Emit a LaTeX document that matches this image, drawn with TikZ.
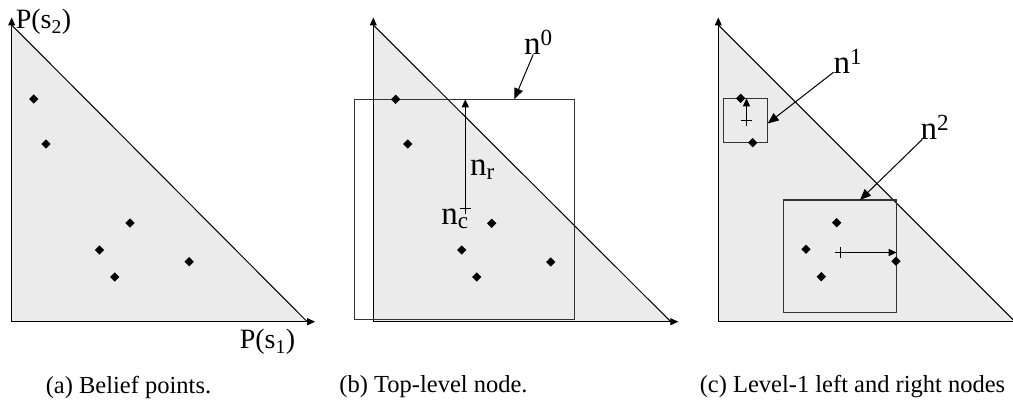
\documentclass[tikz,border=0pt]{standalone}
\usepackage{fontspec}
\setmainfont{Liberation Serif}
\usetikzlibrary{arrows.meta,shapes.geometric}
\tikzset{
  trifill/.style={fill=gray!16, draw=none},
  hyp/.style={draw=black, line width=1pt},
  axisline/.style={draw=black, line width=1pt, -{Triangle[length=8pt,width=7pt]}},
  beliefpt/.style={diamond, fill=black, draw=none, inner sep=0pt, minimum width=9.5pt, minimum height=9.5pt},
  nbox/.style={draw=black!80, line width=1.1pt},
  ptr/.style={draw=black, line width=1pt, -{Triangle[length=11pt,width=9pt]}},
  radarrow/.style={draw=black, line width=1pt, -{Triangle[length=8pt,width=7pt]}},
  biglab/.style={font=\fontsize{33}{37}\selectfont, inner sep=1pt},
  axlab/.style={font=\fontsize{28}{32}\selectfont, inner sep=1pt},
  captext/.style={font=\fontsize{24.5}{28}\selectfont, inner sep=0pt},
}
\newcommand{\plusmark}[1]{\draw[line width=1pt] ([xshift=-5.5pt]#1) -- ([xshift=5.5pt]#1) ([yshift=-5.5pt]#1) -- ([yshift=5.5pt]#1);}
\begin{document}
\begin{tikzpicture}[x=1pt,y=-1pt]
\useasboundingbox (0,0) rectangle (1013,409);
% ---------- panel (a)
\begin{scope}[shift={(11.7,0)}]
  \coordinate (aO) at (0,321.7);
  \coordinate (aT) at (0,25);
  \coordinate (aR) at (295.5,321.7);
  \fill[trifill] (aO) -- (aT) -- (aR) -- cycle;
  \draw[hyp] (aT) -- (aR);
  \coordinate (aTy) at (0,17.5);
  \coordinate (aTx) at (303.5,321.7);
  \draw[axisline] (aO) -- (aTy);
  \draw[axisline] (aO) -- (aTx);
  \foreach \i/\x/\y in {1/22/99,2/34.3/144,3/118.3/223,4/87.8/250,5/103/277,6/177.5/261.7}
    \node[beliefpt] (a\i) at (\x,\y) {};
\end{scope}
\node[axlab] (ps2) at (43.5,22) {P(s\textsubscript{2})};
\node[axlab] (ps1) at (267.5,342) {P(s\textsubscript{1})};
\node[captext] (capa) at (128.5,387) {(a) Belief points.};
% ---------- panel (b)
\begin{scope}[shift={(373.3,0)}]
  \coordinate (bO) at (0,321.7);
  \coordinate (bT) at (0,25);
  \coordinate (bR) at (297.5,321.7);
  \fill[trifill] (bO) -- (bT) -- (bR) -- cycle;
  \draw[hyp] (bT) -- (bR);
  \coordinate (bTy) at (0,17.5);
  \coordinate (bTx) at (305,321.7);
  \draw[axisline] (bO) -- (bTy);
  \draw[axisline] (bO) -- (bTx);
  \draw[nbox] (-19,99.3) rectangle (201,319.3);
  \foreach \i/\x/\y in {1/22.4/99.3,2/34.4/144,3/118.4/223.3,4/88.4/250,5/103.4/277,6/177.4/262}
    \node[beliefpt] (b\i) at (\x,\y) {};
  \coordinate (bc) at (92,209);
  \coordinate (btop) at (92,99.3);
  \coordinate (bn0tip) at (141,99.3);
\end{scope}
\plusmark{bc}
\draw[radarrow] (bc) -- (btop);
\node[biglab] (nr) at (482.5,170) {n\textsubscript{r}};
\node[biglab] (nc) at (455,219) {n\textsubscript{c}};
\node[biglab, inner sep=0pt] (n0) at (538.5,42) {n\textsuperscript{0}};
\draw[ptr] (n0) -- (bn0tip);
\node[captext] (capb) at (433.5,387) {(b) Top-level node.};
% ---------- panel (c)
\begin{scope}[shift={(718.3,0)}]
  \coordinate (cO) at (0,321);
  \coordinate (cT) at (0,25);
  \coordinate (cR) at (296,321);
  \fill[trifill] (cO) -- (cT) -- (cR) -- cycle;
  \draw[hyp] (cT) -- (cR);
  \coordinate (cTy) at (0,17.5);
  \coordinate (cTx) at (304,321);
  \draw[axisline] (cO) -- (cTy);
  \draw[axisline] (cO) -- (cTx);
  \draw[nbox] (5,98.3) rectangle (49.4,142.5);
  \draw[nbox] (65,200) rectangle (178.4,312.7);
  \foreach \i/\x/\y in {1/22.4/98.3,2/34.4/142.7,3/118.4/222.7,4/87.7/249.3,5/103/276.7,6/177.7/261.3}
    \node[beliefpt] (c\i) at (\x,\y) {};
  \coordinate (c1c) at (28.2,121);
  \coordinate (c1top) at (28.2,98.3);
  \coordinate (c2c) at (121.7,252.5);
  \coordinate (c2right) at (178.4,252.5);
  \coordinate (n1tip) at (49.4,123.5);
  \coordinate (n2tip) at (141.7,200);
\end{scope}
\plusmark{c1c}
\plusmark{c2c}
\draw[radarrow] (c1c) -- (c1top);
\draw[radarrow] (c2c) -- (c2right);
\node[biglab, inner sep=0pt] (n1) at (848,61) {n\textsuperscript{1}};
\node[biglab, inner sep=0pt] (n2) at (935,127) {n\textsuperscript{2}};
\draw[ptr] (n1) -- (n1tip);
\draw[ptr] (n2) -- (n2tip);
\node[captext] (capc) at (852.5,387) {(c) Level-1 left and right nodes};
\end{tikzpicture}
\end{document}
